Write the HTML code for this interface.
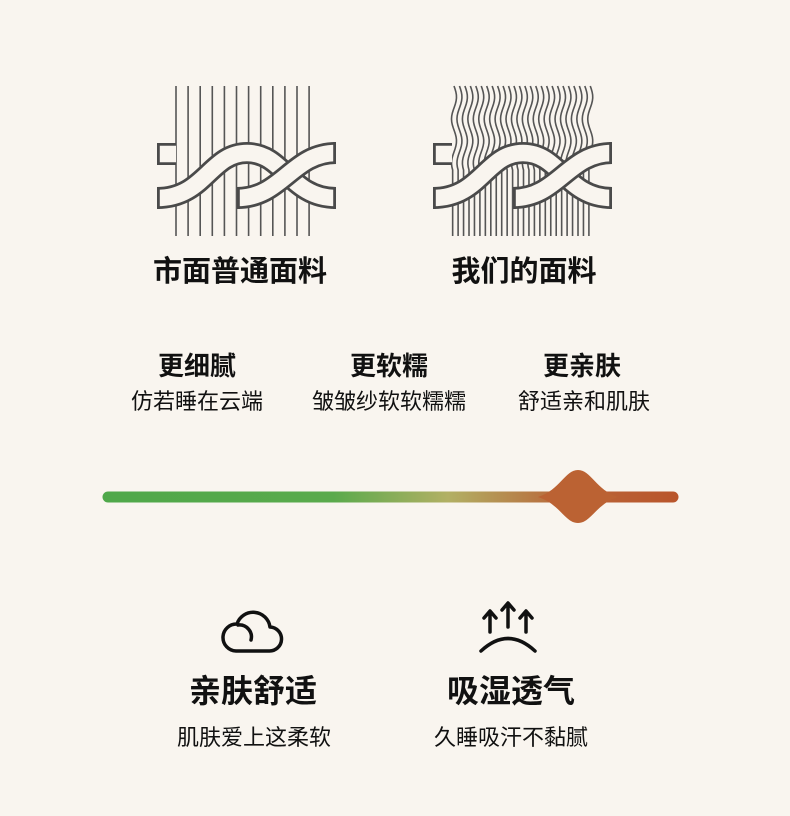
<!DOCTYPE html>
<html><head><meta charset="utf-8"><style>
body{margin:0;background:#f9f5ef;}
#c{position:relative;width:790px;height:816px;overflow:hidden;background:#f9f5ef;font-family:"Liberation Sans","Noto Sans CJK SC",sans-serif;color:#111;}
.t{position:absolute;text-align:center;white-space:nowrap;transform:translateX(-50%);line-height:1.2;}
</style></head><body><div id="c">
<svg id="s" width="790" height="816" style="position:absolute;left:0;top:0">
<defs>
<linearGradient id="g" x1="103" x2="678" gradientUnits="userSpaceOnUse">
<stop offset="0" stop-color="#4fa84a"/><stop offset="0.4" stop-color="#5aaa4c"/>
<stop offset="0.6" stop-color="#b2b064"/><stop offset="0.8" stop-color="#b9673a"/><stop offset="1" stop-color="#b9552b"/>
</linearGradient></defs>
<g id="icons"></g>
<line x1="108" y1="497" x2="673" y2="497" stroke="url(#g)" stroke-width="11" stroke-linecap="round"/>
<path d="M538,497 C560,490 565,470 578,470 C591,470 596,490 618,497 C596,504 591,523 578,523 C565,523 560,504 538,497Z" fill="#bb6233"/>
<g fill="none" stroke="#111" stroke-width="3.5" stroke-linecap="round" stroke-linejoin="round">
<path d="M236,651 H269 A12,12 0 0 0 270,627 A17,17 0 0 0 237,624 A13.5,13.5 0 0 0 236,651Z"/>
<path d="M238,625 A12,12 0 0 1 251,640"/>
<path d="M481,651 Q508,626 535,651"/>
<path d="M490,632 V612 M484,618 L490,611 L496,618"/>
<path d="M508,627 V604 M502,610 L508,603 L514,610"/>
<path d="M526,632 V612 M520,618 L526,611 L532,618"/>
</g>
</svg>
<div class="t" style="left:240px;top:255px;font-size:29px;font-weight:bold">市面普通面料</div>
<div class="t" style="left:524px;top:255px;font-size:29px;font-weight:bold">我们的面料</div>
<div class="t" style="left:197px;top:351px;font-size:26px;font-weight:bold">更细腻</div>
<div class="t" style="left:389px;top:351px;font-size:26px;font-weight:bold">更软糯</div>
<div class="t" style="left:582px;top:351px;font-size:26px;font-weight:bold">更亲肤</div>
<div class="t" style="left:197px;top:389px;font-size:22px">仿若睡在云端</div>
<div class="t" style="left:389px;top:389px;font-size:22px">皱皱纱软软糯糯</div>
<div class="t" style="left:584px;top:389px;font-size:22px">舒适亲和肌肤</div>
<div class="t" style="left:253px;top:672px;font-size:32px;font-weight:bold">亲肤舒适</div>
<div class="t" style="left:511px;top:672px;font-size:32px;font-weight:bold">吸湿透气</div>
<div class="t" style="left:254px;top:725px;font-size:22px">肌肤爱上这柔软</div>
<div class="t" style="left:511px;top:725px;font-size:22px">久睡吸汗不黏腻</div>
</div>
<script>
var g=document.getElementById('icons'),h='';
function braid(o,lines){
 h+='<g stroke="#555" stroke-width="1.6" fill="none">'+lines+'</g>';
 var r1='M'+(o+157)+',198 C'+(o+205)+',198 '+(o+210)+',153 '+(o+247)+',153 C'+(o+284)+',153 '+(o+290)+',198 '+(o+336)+',198';
 var st='M'+(o+157)+',154 L'+(o+176)+',154';
 var r2='M'+(o+237)+',198 C'+(o+282)+',198 '+(o+292)+',153 '+(o+336)+',153';
 [st,r1,r2].forEach(function(p){
  h+='<path d="'+p+'" stroke="#4a4a4a" stroke-width="22" fill="none"/><path d="'+p+'" stroke="#f9f5ef" stroke-width="16.5" fill="none"/>';
 });
 h+='<g stroke="#4a4a4a" stroke-width="2.8"><line x1="'+(o+158.4)+'" y1="143" x2="'+(o+158.4)+'" y2="165"/><line x1="'+(o+158.4)+'" y1="187" x2="'+(o+158.4)+'" y2="209"/><line x1="'+(o+334.6)+'" y1="142" x2="'+(o+334.6)+'" y2="164"/><line x1="'+(o+334.6)+'" y1="187" x2="'+(o+334.6)+'" y2="209"/><line x1="'+(o+238.4)+'" y1="187" x2="'+(o+238.4)+'" y2="209"/></g>';
}
var L='';
for(var i=0;i<12;i++){var x=176+i*12.1;L+='<line x1="'+x+'" y1="86" x2="'+x+'" y2="236"/>';}
braid(0,L);
L='';
for(var i=0;i<26;i++){var x=454+i*5.45;var d='M'+x+',86';
 for(var y=86;y<=170;y+=3){d+=' L'+(x+2.5*Math.sin((y-86)/7))+','+y;}
 d+=' L'+(x+2.5*Math.sin(84/7))+',236';L+='<path d="'+d+'"/>';}
braid(276,L);
g.innerHTML=h;
</script>
</body></html>
